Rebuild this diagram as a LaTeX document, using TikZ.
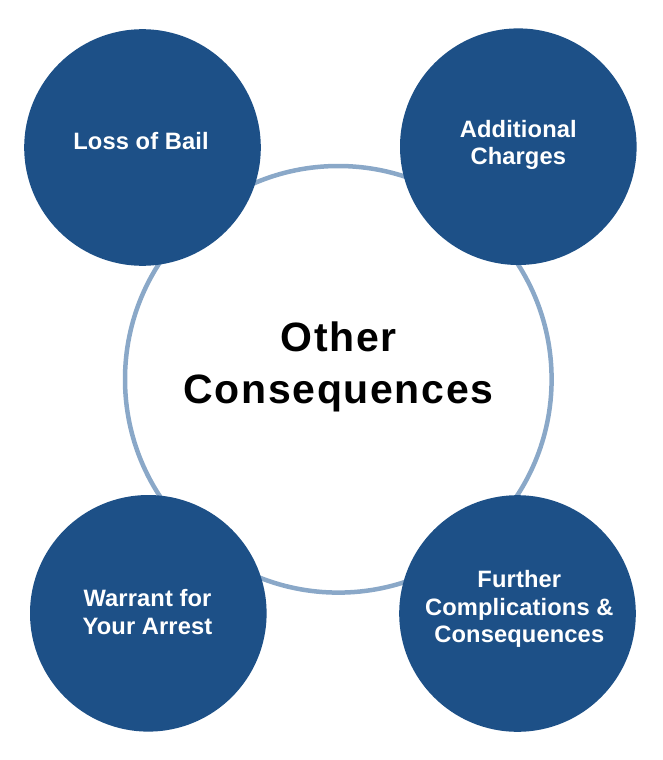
\documentclass[tikz,border=0pt]{standalone}
\usepackage{fontspec}
\setmainfont{Liberation Sans}
\definecolor{bubble}{RGB}{29,80,135}
\definecolor{ring}{RGB}{138,168,200}
\begin{document}
\begin{tikzpicture}[x=1pt,y=-1pt,
  bub/.style={circle,fill=bubble,minimum size=236.6pt,inner sep=0pt},
  btext/.style={text=white,align=center,inner sep=0pt,
    font=\fontsize{23.7}{27.4}\selectfont\bfseries\addfontfeature{LetterSpace=0.5}},
  ctext/.style={text=black,align=center,inner sep=0pt,
    font=\fontsize{41}{52.5}\selectfont\bfseries\addfontfeature{LetterSpace=4}}]
\useasboundingbox (0,0) rectangle (662,760);
\node[circle,draw=ring,line width=4.5pt,minimum size=426.6pt,inner sep=0pt] (c) at (338.3,379.3) {};
\node[ctext] (ct) at (338.5,366.8) {Other\\Consequences};
\node[bub] (b1) at (142.5,147.5) {};
\node[bub] (b2) at (518.3,146.7) {};
\node[bub] (b3) at (148.3,613.3) {};
\node[bub] (b4) at (517.5,613.5) {};
\node[btext] (t1) at (141,140.6) {Loss of Bail};
\node[btext] (t2) at (518.3,144.9) {Additional\\Charges};
\node[btext] (t3) at (147.5,611.9) {Warrant for\\Your Arrest};
\node[btext] (t4) at (519.3,608.9) {Further\\Complications \&\\Consequences};
\end{tikzpicture}
\end{document}
